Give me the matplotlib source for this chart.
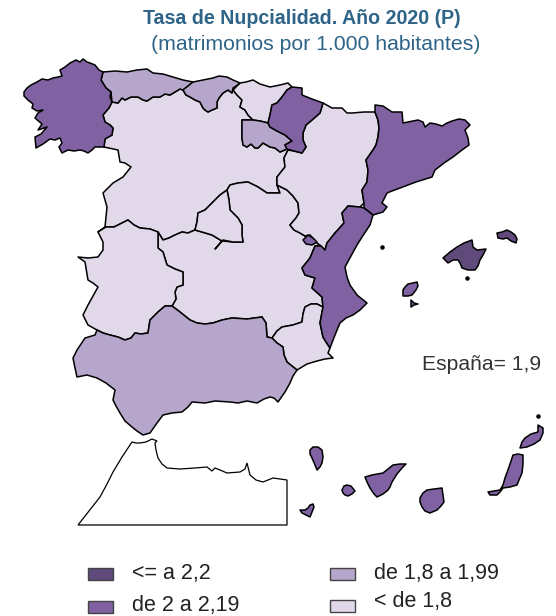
import matplotlib
matplotlib.use("Agg")
import matplotlib.pyplot as plt
from matplotlib.patches import Rectangle

plt.rcParams['font.family'] = ['Liberation Sans', 'DejaVu Sans']

# region outlines (x, y in image pixels)
galicia = [(24,92),(27,88),(31,85),(37,82),(42,79),(48,80),(53,78),(58,77),(62,76),(60,70),(65,67),(70,63),(76,60),(80,62),(83,59),(87,62),(90,63),(95,65),(99,70),(103,72),(101,80),(106,88),(111,92),(110,97),(112,102),(109,108),(103,115),(105,122),(110,125),(113,128),(112,135),(105,139),(104,147),(95,147),(92,150),(88,153),(84,151),(80,150),(74,151),(68,150),(62,153),(59,147),(62,143),(60,138),(55,140),(50,139),(43,144),(36,148),(35,137),(41,134),(47,127),(38,130),(42,124),(35,118),(38,113),(43,110),(37,111),(32,108),(33,104),(28,100),(24,96)]
asturias = [(103,72),(115,71),(127,72),(137,70),(147,69),(153,73),(163,74),(173,77),(183,80),(193,82),(188,86),(183,90),(180,89),(175,92),(170,95),(165,94),(160,97),(153,97),(147,101),(143,100),(138,97),(131,97),(125,100),(122,98),(118,103),(112,102),(111,92),(106,88),(101,80)]
cantabria = [(193,82),(203,80),(213,78),(219,76),(227,77),(233,80),(240,83),(236,86),(233,88),(232,93),(228,90),(223,93),(219,98),(217,102),(217,108),(212,110),(208,112),(205,110),(203,108),(200,102),(195,100),(190,97),(186,95),(183,90)]
pais_vasco = [(240,83),(246,82),(253,80),(260,84),(270,87),(280,85),(288,83),(292,87),(287,90),(282,97),(277,103),(272,105),(270,115),(268,123),(260,121),(253,120),(248,115),(245,110),(240,107),(242,100),(237,95),(233,90)]
navarra = [(292,87),(302,88),(302,95),(312,99),(323,103),(320,113),(312,120),(306,125),(303,133),(303,140),(306,147),(302,153),(294,151),(287,149),(285,145),(292,141),(285,135),(277,131),(270,127),(268,123),(270,115),(272,105),(277,103),(282,97),(287,90)]
rioja = [(242,120),(253,120),(260,121),(268,123),(270,127),(277,131),(285,135),(292,141),(285,145),(287,149),(280,152),(275,148),(270,147),(263,143),(258,148),(255,148),(251,144),(247,147),(243,145),(242,138)]
aragon = [(323,103),(332,108),(342,108),(347,113),(352,113),(364,112),(375,112),(378,120),(379,128),(378,137),(376,145),(373,150),(366,160),(368,170),(367,182),(362,190),(364,203),(360,207),(348,206),(342,213),(344,223),(335,233),(327,243),(325,250),(321,246),(317,243),(310,235),(305,236),(300,233),(294,230),(290,225),(296,218),(299,213),(298,203),(293,196),(287,190),(277,185),(277,177),(285,167),(284,158),(288,150),(294,151),(302,153),(306,147),(303,140),(303,133),(306,125),(312,120),(320,113)]
cataluna = [(375,105),(383,106),(392,112),(402,112),(403,123),(413,121),(418,120),(423,122),(425,127),(430,123),(436,124),(442,126),(447,123),(452,121),(459,119),(465,120),(470,125),(465,130),(468,138),(469,145),(462,150),(453,157),(444,163),(435,170),(432,177),(416,182),(400,188),(392,191),(387,193),(382,203),(387,207),(383,212),(373,215),(364,208),(364,203),(362,190),(367,182),(368,170),(366,160),(373,150),(376,145),(378,137),(379,128),(378,120),(375,112)]
valencia = [(360,207),(364,208),(373,215),(370,225),(364,234),(357,245),(351,256),(345,267),(347,277),(350,285),(357,295),(367,303),(360,310),(353,315),(346,318),(340,323),(335,335),(330,348),(326,342),(323,337),(320,323),(323,307),(322,297),(312,288),(315,278),(305,275),(302,268),(310,258),(315,246),(321,246),(325,250),(327,243),(335,233),(344,223),(342,213),(348,206)]
ademuz = [(303,240),(308,235),(313,238),(317,242),(312,245),(306,244)]
murcia = [(330,348),(328,353),(333,358),(325,359),(317,361),(307,364),(297,370),(292,366),(287,362),(284,355),(283,347),(277,343),(272,338),(277,331),(282,327),(293,325),(302,322),(303,314),(305,307),(311,304),(317,304),(323,307),(320,323),(323,337),(326,342)]
andalucia = [(73,358),(77,350),(85,338),(95,335),(97,330),(103,333),(110,335),(118,337),(125,340),(131,338),(135,333),(141,334),(148,333),(150,320),(158,312),(165,306),(172,306),(180,312),(190,320),(197,323),(205,324),(213,323),(222,320),(232,318),(247,319),(262,317),(266,323),(267,337),(272,338),(277,343),(283,347),(284,355),(287,362),(292,366),(297,370),(293,376),(290,383),(285,392),(278,402),(274,398),(270,397),(264,399),(257,403),(247,401),(238,403),(230,402),(215,401),(205,403),(192,402),(188,407),(182,412),(172,413),(163,415),(157,423),(150,433),(143,435),(137,431),(132,427),(125,421),(120,413),(116,406),(113,400),(115,390),(106,383),(97,378),(87,375),(77,377),(75,368)]
extremadura = [(98,232),(106,227),(114,227),(128,220),(134,225),(140,228),(150,229),(158,232),(158,248),(163,252),(167,265),(175,269),(183,272),(183,285),(177,287),(175,292),(176,299),(172,306),(165,306),(158,312),(150,320),(148,333),(141,334),(135,333),(131,338),(125,340),(118,337),(110,335),(103,333),(97,330),(88,325),(83,315),(88,305),(98,287),(93,283),(88,280),(85,262),(78,257),(88,258),(98,257),(103,250),(103,242)]
castilla_leon = [(112,102),(118,103),(122,98),(125,100),(131,97),(138,97),(143,100),(147,101),(153,97),(160,97),(165,94),(170,95),(175,92),(180,89),(183,90),(186,95),(190,97),(195,100),(200,102),(203,108),(205,110),(208,112),(212,110),(217,108),(217,102),(219,98),(223,93),(228,90),(232,93),(233,90),(237,95),(242,100),(240,107),(245,110),(248,115),(253,120),(242,120),(242,138),(243,145),(247,147),(251,144),(255,148),(258,148),(263,143),(270,147),(275,148),(280,152),(287,149),(288,150),(284,158),(285,167),(277,177),(277,185),(280,193),(267,193),(258,187),(248,182),(238,183),(230,185),(227,190),(220,195),(213,202),(205,210),(198,213),(197,222),(195,230),(188,233),(182,232),(175,235),(169,238),(163,240),(158,232),(150,229),(140,228),(134,225),(128,220),(114,227),(106,227),(98,232),(105,227),(107,207),(103,193),(113,183),(123,177),(131,167),(125,163),(120,162),(118,150),(104,147),(105,139),(112,135),(113,128),(110,125),(105,122),(103,115),(109,108)]
madrid = [(227,190),(229,200),(230,210),(238,218),(242,225),(242,235),(243,242),(233,242),(223,240),(215,249),(222,241),(212,235),(202,232),(195,230),(197,222),(198,213),(205,210),(213,202),(220,195)]
castilla_mancha = [(227,190),(230,185),(238,183),(248,182),(258,187),(267,193),(280,193),(277,185),(287,190),(293,196),(298,203),(299,213),(296,218),(290,225),(294,230),(300,233),(305,236),(310,235),(317,243),(321,246),(315,246),(310,258),(302,268),(305,275),(315,278),(312,288),(322,297),(323,307),(317,304),(311,304),(305,307),(303,314),(302,322),(293,325),(282,327),(277,331),(272,338),(267,337),(266,323),(262,317),(247,319),(232,318),(222,320),(213,323),(205,324),(197,323),(190,320),(180,312),(172,306),(176,299),(175,292),(177,287),(183,285),(183,272),(175,269),(167,265),(163,252),(158,248),(158,232),(163,240),(169,238),(175,235),(182,232),(188,233),(195,230),(202,232),(212,235),(222,241),(233,242),(243,242),(242,235),(242,225),(238,218),(230,210),(229,200)]
mallorca = [(443,258),(450,252),(457,247),(464,243),(472,240),(473,247),(477,250),(486,249),(483,255),(480,260),(478,266),(475,270),(468,270),(462,268),(460,263),(458,260),(453,260),(448,263)]
menorca = [(497,233),(502,232),(507,230),(511,232),(515,235),(517,239),(516,243),(511,241),(507,238),(503,239),(498,238)]
ibiza = [(403,290),(405,287),(408,284),(413,283),(417,282),(418,286),(416,290),(412,295),(408,296),(403,296)]
formentera = [(411,300),(414,303),(418,304),(414,305),(411,307)]
la_palma = [(310,450),(313,447),(318,447),(322,450),(323,457),(322,463),(320,467),(317,470),(315,465),(312,458),(310,454)]
el_hierro = [(300,510),(305,510),(308,508),(310,505),(313,504),(314,507),(312,512),(310,517),(306,515),(302,513)]
la_gomera = [(342,490),(344,486),(347,485),(351,486),(355,491),(352,494),(348,496),(345,495),(343,493)]
tenerife = [(365,477),(372,475),(383,473),(388,469),(393,465),(400,464),(406,464),(402,468),(397,474),(392,482),(390,487),(388,490),(383,494),(377,497),(374,494),(370,488),(367,482)]
gran_canaria = [(427,490),(434,489),(442,488),(443,495),(444,502),(441,506),(437,510),(430,513),(425,511),(422,507),(420,502),(420,498),(423,493)]
fuerteventura = [(488,492),(494,491),(500,490),(503,485),(505,478),(509,467),(513,455),(518,454),(523,455),(523,464),(522,473),(519,480),(517,485),(510,487),(503,488),(500,492),(497,495),(490,495)]
lanzarote = [(520,448),(522,442),(525,438),(531,434),(538,432),(538,425),(543,428),(543,433),(540,440),(534,444),(527,447)]
marruecos = [(78,525),(89,511),(100,497),(107,484),(113,472),(122,457),(132,442),(136,443),(140,443),(146,442),(152,439),(157,441),(155,443),(156,450),(158,458),(162,464),(167,468),(180,469),(195,468),(207,467),(212,471),(215,468),(220,470),(227,473),(240,472),(245,469),(247,463),(250,475),(256,480),(263,482),(273,478),(287,480),(287,525)]
islotes = [(382,247),(467,278),(538,416)]

color_1 = '#5f4a7b'
color_2 = '#8062a3'
color_3 = '#b6a6cb'
color_4 = '#e1d9ea'

grupos = [
    (color_4, [castilla_leon, castilla_mancha, madrid, extremadura, aragon, pais_vasco, murcia]),
    (color_3, [asturias, cantabria, rioja, andalucia]),
    (color_2, [galicia, navarra, cataluna, valencia, ademuz, ibiza, formentera, la_palma, el_hierro,
               la_gomera, tenerife, gran_canaria, fuerteventura, lanzarote]),
    (color_1, [mallorca, menorca]),
]

leyenda = ['<= a 2,2', 'de 2 a 2,19', 'de 1,8 a 1,99', '< de 1,8']
leyenda_colores = [color_1, color_2, color_3, color_4]
leyenda_pos = [(88, 568, 573), (88, 601, 605), (330, 568, 573), (330, 600, 602)]

fig = plt.figure(figsize=(5.56, 6.16), dpi=100)
ax = fig.add_axes([0, 0, 1, 1])
ax.set_xlim(0, 556)
ax.set_ylim(616, 0)
ax.axis('off')

for color, regiones in grupos:
    for r in regiones:
        xs = [p[0] for p in r]
        ys = [p[1] for p in r]
        ax.fill(xs, ys, facecolor=color, edgecolor='black', linewidth=1.1, joinstyle='round')

ax.fill([p[0] for p in marruecos], [p[1] for p in marruecos], facecolor='white', edgecolor='black', linewidth=0.9)
ax.scatter([p[0] for p in islotes], [p[1] for p in islotes], s=5, color='black', zorder=3)

ax.text(302, 18.5, 'Tasa de Nupcialidad. Año 2020 (P)', color='#2e6488', fontsize=14.1, fontweight='bold', ha='center', va='center')
ax.text(316, 44, '(matrimonios por 1.000 habitantes)', color='#2e6488', fontsize=15.3, ha='center', va='center')
ax.text(422, 364, 'España= 1,9', color='#333333', fontsize=15.2, ha='left', va='center')

for texto, color, pos in zip(leyenda, leyenda_colores, leyenda_pos):
    ax.add_patch(Rectangle((pos[0], pos[1]), 25, 12, facecolor=color, edgecolor='#444444', linewidth=1))
    ax.text(pos[0] + 44, pos[2], texto, color='#222222', fontsize=15.5, ha='left', va='center')

fig.savefig('out.png', dpi=100)
